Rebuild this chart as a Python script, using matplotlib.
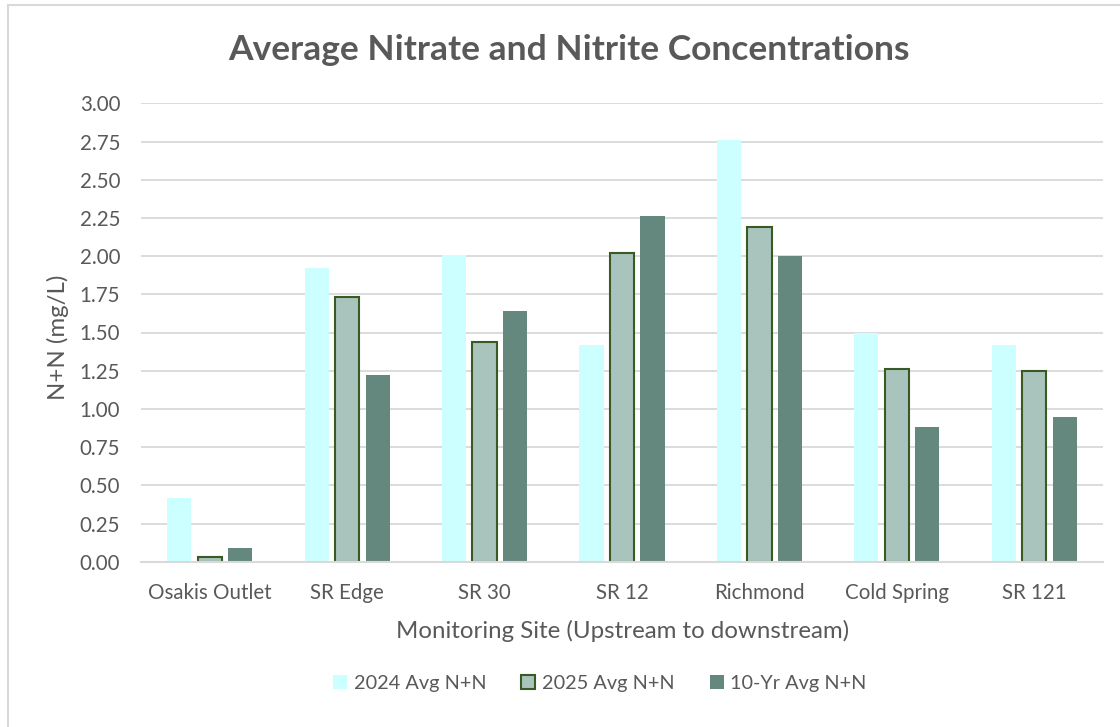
import matplotlib
matplotlib.use("Agg")
import matplotlib.pyplot as plt
from matplotlib.patches import Patch
from matplotlib.lines import Line2D
import numpy as np

# Monitoring sites, upstream to downstream
sites = ["Osakis Outlet", "SR Edge", "SR 30", "SR 12", "Richmond", "Cold Spring", "SR 121"]

# Average nitrate + nitrite (mg/L)
avg_2024 = [0.42, 1.92, 2.01, 1.42, 2.76, 1.50, 1.42]
avg_2025 = [0.03, 1.73, 1.44, 2.02, 2.19, 1.26, 1.25]
avg_10yr = [0.09, 1.22, 1.64, 2.26, 2.00, 0.88, 0.95]

series_labels = ["2024 Avg N+N", "2025 Avg N+N", "10-Yr Avg N+N"]
y_ticks = [0.00, 0.25, 0.50, 0.75, 1.00, 1.25, 1.50, 1.75, 2.00, 2.25, 2.50, 2.75, 3.00]

plt.rcParams["font.family"] = ["Lato", "DejaVu Sans"]
TEXT = "#595959"
GRID = "#D9D9D9"
C24 = "#CCFFFF"
C25 = "#A9C4BD"
C25_EDGE = "#3A5A24"
C10 = "#64887E"

W, H = 1120, 727
fig = plt.figure(figsize=(W / 100, H / 100), dpi=100)
fig.patch.set_facecolor("white")

# chart frame (left and top edges)
fig.add_artist(Line2D([7.5 / W, 7.5 / W], [0, 1 - 5 / H], transform=fig.transFigure,
                      color=GRID, lw=1.5))
fig.add_artist(Line2D([7.5 / W, 1], [1 - 5 / H, 1 - 5 / H], transform=fig.transFigure,
                      color=GRID, lw=1.5))

left, right = 141, 1103
top, bottom = 103.3, 561.7
ax = fig.add_axes([left / W, 1 - bottom / H, (right - left) / W, (bottom - top) / H])

x = np.arange(len(sites))
pitch = 0.222
bw = 0.176
ax.bar(x - pitch, avg_2024, bw, color=C24, zorder=3, label=series_labels[0])
ax.bar(x, avg_2025, bw, color=C25, edgecolor=C25_EDGE, linewidth=1.5, zorder=3,
       label=series_labels[1])
ax.bar(x + pitch, avg_10yr, bw, color=C10, zorder=3, label=series_labels[2])

ax.set_xlim(-0.5, len(sites) - 0.5)
ax.set_ylim(0, 3.0)
ax.set_yticks(y_ticks)
ax.set_yticklabels([f"{v:.2f}" for v in y_ticks])
ax.set_xticks(x)
ax.set_xticklabels(sites)
ax.tick_params(axis="both", length=0, labelsize=14.8, colors=TEXT)
ax.tick_params(axis="y", pad=15)
ax.tick_params(axis="x", pad=15)
ax.yaxis.grid(True, color=GRID, lw=1.3, zorder=0)
ax.set_axisbelow(True)
for s in ["top", "right", "left"]:
    ax.spines[s].set_visible(False)
ax.spines["bottom"].set_color(GRID)
ax.spines["bottom"].set_linewidth(1.5)
ax.spines["bottom"].set_zorder(4)

fig.text(569 / W, 1 - 50 / H, "Average Nitrate and Nitrite Concentrations",
         ha="center", va="center", fontsize=25.5, fontweight="bold", color=TEXT)
fig.text(623 / W, 1 - 631 / H, "Monitoring Site (Upstream to downstream)",
         ha="center", va="center", fontsize=17.3, color=TEXT)
fig.text(58 / W, 1 - 337 / H, "N+N (mg/L)", ha="center", va="center",
         rotation=90, fontsize=17.3, color=TEXT)

handles = [Patch(facecolor=C24, edgecolor="none"),
           Patch(facecolor=C25, edgecolor=C25_EDGE, linewidth=1.5),
           Patch(facecolor=C10, edgecolor="none")]
fig.legend(handles, series_labels, loc="center", bbox_to_anchor=(600 / W, 1 - 683 / H),
           ncol=3, frameon=False, fontsize=14.3, labelcolor=TEXT,
           handlelength=0.7, handleheight=0.7, handletextpad=0.35,
           columnspacing=1.75)

fig.savefig("out.png", dpi=100, facecolor="white")
